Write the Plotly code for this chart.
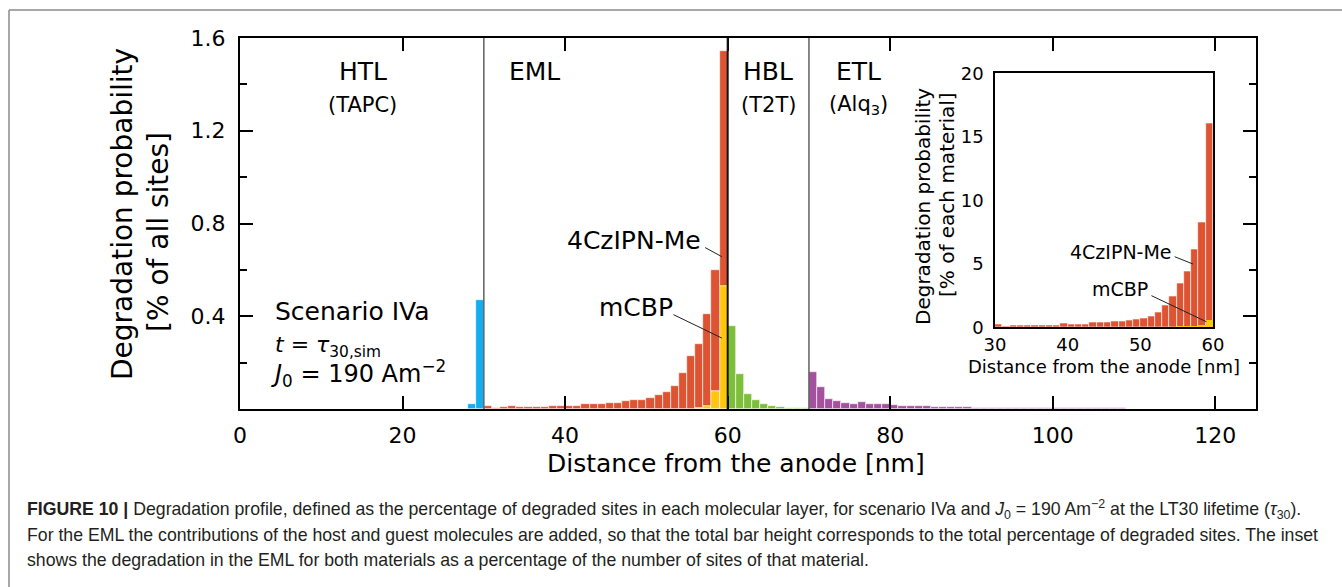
import plotly.graph_objects as go

# ---------------- data ----------------
htl_left = [28, 29]
htl_vals = [0.022, 0.468]

eml_left = list(range(30, 60))
eml_czipn = [0.014, 0.004, 0.008, 0.011, 0.008, 0.009, 0.009, 0.009, 0.011, 0.015,
             0.015, 0.015, 0.020, 0.020, 0.022, 0.025, 0.028, 0.033, 0.037, 0.037,
             0.047, 0.060, 0.074, 0.100, 0.155, 0.225, 0.277, 0.394, 0.522, 1.016]
eml_mcbp = [0, 0, 0, 0, 0, 0, 0, 0, 0, 0,
            0, 0, 0, 0, 0, 0, 0, 0, 0, 0,
            0, 0, 0, 0, 0, 0.002, 0.005, 0.014, 0.079, 0.530]

hbl_left = list(range(60, 70))
hbl_vals = [0.360, 0.152, 0.066, 0.037, 0.021, 0.014, 0.008, 0.004, 0.003, 0.003]

etl_left = list(range(70, 123))
etl_vals = [0.159, 0.0945, 0.044, 0.033, 0.027, 0.021, 0.030, 0.022, 0.022, 0.021,
            0.017, 0.014, 0.012, 0.012, 0.011, 0.0095, 0.009, 0.008, 0.008, 0.0066,
            0.006, 0.005, 0.006, 0.005, 0.005, 0.005, 0.004, 0.005, 0.004, 0.004,
            0.004, 0.004, 0.003, 0.004, 0.003, 0.003, 0.003, 0.003, 0.003, 0.002,
            0.002, 0.002, 0.002, 0.002, 0.002, 0.002, 0.002, 0.002, 0.002, 0.002,
            0.002, 0.002, 0.002]

inset_czipn = [0.23, 0.05, 0.13, 0.18, 0.16, 0.16, 0.17, 0.17, 0.17, 0.29,
               0.26, 0.26, 0.24, 0.36, 0.39, 0.39, 0.44, 0.47, 0.57, 0.60,
               0.73, 0.89, 1.15, 1.77, 2.42, 3.50, 4.40, 6.15, 8.23, 16.04]
inset_mcbp = [0, 0, 0, 0, 0, 0, 0, 0, 0, 0,
              0, 0, 0, 0, 0, 0, 0, 0, 0, 0,
              0, 0, 0, 0, 0, 0.002, 0.005, 0.015, 0.085, 0.57]

layer_boundaries = [30, 60, 70]
x_ticks = [0, 20, 40, 60, 80, 100, 120]
y_ticks = [0.4, 0.8, 1.2, 1.6]
y_minor = [0.2, 0.6, 1.0, 1.4]
inset_x_ticks = [30, 40, 50, 60]
inset_y_ticks = [0, 5, 10, 15, 20]

# ---------------- style ----------------
C_BLUE = "#12aef0"
C_RED = "#de5331"
C_YEL = "#fec70c"
C_GRN = "#7dbf3b"
C_PUR = "#a4529e"
FONT = "DejaVu Sans"

W, H = 1342, 587
L, R, T, B = 240, 86, 38, 178
PW, PH = W - L - R, H - T - B


def PX(px):
    return (px - L) / PW


def PY(py):
    return (H - B - py) / PH


def centers(lefts):
    return [v + 0.5 for v in lefts]


edge = dict(color="white", width=0.6)
fig = go.Figure()

fig.add_trace(go.Bar(x=centers(htl_left), y=htl_vals, width=1, marker=dict(color=C_BLUE, line=edge),
                     xaxis="x", yaxis="y", showlegend=False))
fig.add_trace(go.Bar(x=centers(eml_left), y=eml_mcbp, width=1, marker=dict(color=C_YEL, line=edge),
                     xaxis="x", yaxis="y", showlegend=False))
fig.add_trace(go.Bar(x=centers(eml_left), y=eml_czipn, base=eml_mcbp, width=1,
                     marker=dict(color=C_RED, line=edge), xaxis="x", yaxis="y", showlegend=False))
fig.add_trace(go.Bar(x=centers(hbl_left), y=hbl_vals, width=1, marker=dict(color=C_GRN, line=edge),
                     xaxis="x", yaxis="y", showlegend=False))
fig.add_trace(go.Bar(x=centers(etl_left), y=etl_vals, width=1, marker=dict(color=C_PUR, line=edge),
                     xaxis="x", yaxis="y", showlegend=False))

# inset
fig.add_trace(go.Bar(x=centers(eml_left), y=inset_czipn, width=1, marker=dict(color=C_RED, line=edge),
                     xaxis="x2", yaxis="y2", showlegend=False))
fig.add_trace(go.Bar(x=centers(eml_left), y=inset_mcbp, width=1, marker=dict(color=C_YEL, line=dict(width=0)),
                     xaxis="x2", yaxis="y2", showlegend=False))

shapes = []
for xb in layer_boundaries:
    dark = xb == 60
    shapes.append(dict(type="line", xref="x", yref="y", x0=xb, x1=xb, y0=0, y1=1.6,
                       line=dict(color="#111111" if dark else "#606060", width=2 if dark else 1.5)))

# pointer lines for labels
shapes += [
    dict(type="line", xref="x", yref="y", x0=57.23, y0=0.696, x1=59.28, y1=0.657,
         line=dict(color="#222", width=1)),
    dict(type="line", xref="x", yref="y", x0=53.33, y0=0.407, x1=59.28, y1=0.306,
         line=dict(color="#222", width=1)),
    dict(type="line", xref="x2", yref="y2", x0=54.73, y0=5.56, x1=57.25, y1=4.98,
         line=dict(color="#222", width=1)),
    dict(type="line", xref="x2", yref="y2", x0=51.53, y0=2.49, x1=59.09, y1=0.44,
         line=dict(color="#222", width=1)),
]

# outer frame of the figure panel
shapes += [
    dict(type="line", xref="paper", yref="paper", x0=PX(9), x1=PX(1345), y0=PY(10), y1=PY(10),
         line=dict(color="#8a8a8a", width=1.5)),
    dict(type="line", xref="paper", yref="paper", x0=PX(9), x1=PX(9), y0=PY(10), y1=PY(590),
         line=dict(color="#8a8a8a", width=1.5)),
]

ann = []


def txt(x, y, text, size, xref="x", yref="y", xanchor="center", yanchor="middle", angle=0,
        family=FONT, color="black"):
    ann.append(dict(x=x, y=y, xref=xref, yref=yref, text=text, showarrow=False,
                    xanchor=xanchor, yanchor=yanchor, textangle=angle,
                    font=dict(family=family, size=size, color=color)))


# layer labels
txt(15.1, 1.456, "HTL", 25)
txt(15.1, 1.311, "(TAPC)", 21)
txt(36.2, 1.456, "EML", 25)
txt(65.0, 1.456, "HBL", 25)
txt(65.0, 1.311, "(T2T)", 21)
txt(76.1, 1.456, "ETL", 25)
txt(76.1, 1.311, "(Alq<sub>3</sub>)", 21)

txt(4.0, 0.42, "Scenario IVa", 25, xanchor="left")
txt(4.0, 0.27, "<i>t</i> = <i>τ</i><sub>30,sim</sub>", 22, xanchor="left")
txt(3.6, 0.155, "<i>J</i><sub>0</sub> = 190 Am<sup>−2</sup>", 24, xanchor="left")

txt(57.0, 0.727, "4CzIPN-Me", 25, xanchor="right")
txt(53.5, 0.437, "mCBP", 25, xanchor="right")

txt(54.7, 5.9, "4CzIPN-Me", 19, xref="x2", yref="y2", xanchor="right")
txt(51.3, 3.0, "mCBP", 19, xref="x2", yref="y2", xanchor="right")

# axis titles
txt(PX(736), PY(463), "Distance from the anode [nm]", 25, xref="paper", yref="paper")
txt(PX(122), PY(214), "Degradation probability", 28, xref="paper", yref="paper", angle=-90)
txt(PX(158), PY(232), "[% of all sites]", 28, xref="paper", yref="paper", angle=-90)

txt(PX(1104), PY(366), "Distance from the anode [nm]", 18, xref="paper", yref="paper")
txt(PX(923), PY(207), "Degradation probability", 20, xref="paper", yref="paper", angle=-90)
txt(PX(947), PY(195), "[% of each material]", 20, xref="paper", yref="paper", angle=-90)

# caption
CAP = "Liberation Sans"
CAPC = "#231f20"
CS = 17.7
txt(PX(25), PY(509), "<b>FIGURE 10 |</b> Degradation profile, defined as the percentage of degraded sites in each "
    "molecular layer, for scenario IVa and <i>J</i><sub>0</sub> = 190 Am<sup>−2</sup> at the LT30 lifetime "
    "(<i>τ</i><sub>30</sub>).", CS, xref="paper", yref="paper", xanchor="left", family=CAP, color=CAPC)
txt(PX(25), PY(535), "For the EML the contributions of the host and guest molecules are added, so that the total bar "
    "height corresponds to the total percentage of degraded sites. The inset", CS, xref="paper", yref="paper",
    xanchor="left", family=CAP, color=CAPC)
txt(PX(25), PY(560), "shows the degradation in the EML for both materials as a percentage of the number of sites "
    "of that material.", CS, xref="paper", yref="paper", xanchor="left", family=CAP, color=CAPC)

fig.update_layout(
    width=W, height=H,
    margin=dict(l=L, r=R, t=T, b=B, pad=0),
    paper_bgcolor="white", plot_bgcolor="white",
    barmode="overlay", bargap=0,
    font=dict(family=FONT, color="black"),
    shapes=shapes, annotations=ann,
    xaxis=dict(domain=[0, 1], range=[0, 125], tickvals=x_ticks, ticks="inside", ticklen=13, tickwidth=2,
               tickcolor="black", showline=True, linewidth=2, linecolor="black", mirror="ticks",
               showgrid=False, zeroline=False, tickfont=dict(size=22), ticklabelstandoff=6),
    yaxis=dict(domain=[0, 1], range=[0, 1.6], tickvals=y_ticks, ticktext=[f"{v:.1f}" for v in y_ticks],
               ticks="inside", ticklen=13, tickwidth=2, tickcolor="black", showline=True, linewidth=2,
               linecolor="black", mirror="ticks", showgrid=False, zeroline=False, tickfont=dict(size=22),
               ticklabelstandoff=8,
               minor=dict(tickvals=y_minor, ticks="inside", ticklen=7, tickwidth=2, tickcolor="black",
                          showgrid=False)),
    xaxis2=dict(domain=[PX(995), PX(1213)], anchor="y2", range=[30, 60], tickvals=inset_x_ticks, ticks="",
                showline=True, linewidth=1.5, linecolor="black", mirror=True, showgrid=False, zeroline=False,
                tickfont=dict(size=18), ticklabelstandoff=0),
    yaxis2=dict(domain=[PY(327.3), PY(73.3)], anchor="x2", range=[0, 20], tickvals=inset_y_ticks, ticks="",
                showline=True, linewidth=1.5, linecolor="black", mirror=True, showgrid=False, zeroline=False,
                tickfont=dict(size=18), ticklabelstandoff=6),
)

fig.write_html("out.html")
